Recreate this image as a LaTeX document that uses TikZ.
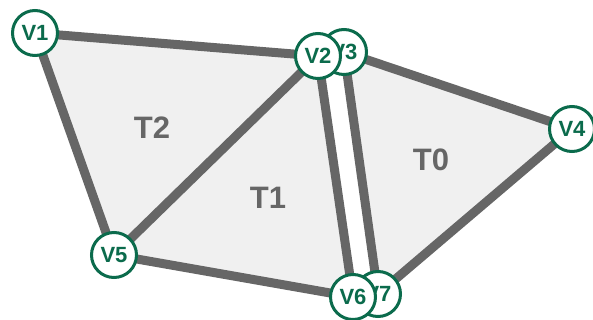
\documentclass[tikz,border=0pt]{standalone}
\usepackage{fontspec}
\setmainfont{Liberation Sans}
\usetikzlibrary{backgrounds}
\definecolor{vgreen}{HTML}{0B6B4C}
\definecolor{edgegray}{HTML}{666666}
\definecolor{facegray}{HTML}{F0F0F0}
\tikzset{
  vertex/.style={circle, draw=vgreen, line width=3pt, fill=white, minimum size=45pt,
    inner sep=0pt, text=vgreen, font=\fontsize{22}{22}\selectfont\bfseries},
  edge/.style={draw=edgegray, line width=9pt},
  face/.style={fill=facegray},
  tlabel/.style={text=edgegray, font=\fontsize{31}{31}\selectfont\bfseries}
}
\begin{document}
\begin{tikzpicture}[x=1pt, y=-1pt]
  \useasboundingbox (0,0) rectangle (593,320);
  % vertices (V3 and V7 lie underneath V2 and V6)
  \node[vertex] (v3) at (344,52) {V3};
  \node[vertex] (v7) at (378,294) {V7};
  \node[vertex] (v1) at (35,33) {V1};
  \node[vertex] (v2) at (318,56) {V2};
  \node[vertex] (v4) at (572,129) {V4};
  \node[vertex] (v5) at (114,255) {V5};
  \node[vertex] (v6) at (353,297) {V6};
  % triangle labels
  \node[tlabel] (t2) at (152,128) {T2};
  \node[tlabel] (t1) at (268,198) {T1};
  \node[tlabel] (t0) at (431,160) {T0};
  \begin{scope}[on background layer]
    % faces
    \fill[face] (v1.center) -- (v2.center) -- (v5.center) -- cycle;
    \fill[face] (v2.center) -- (v5.center) -- (v6.center) -- cycle;
    \fill[face] (v3.center) -- (v4.center) -- (v7.center) -- cycle;
    % edges
    \draw[edge] (v1.center) -- (v2.center);
    \draw[edge] (v1.center) -- (v5.center);
    \draw[edge] (v2.center) -- (v5.center);
    \draw[edge] (v5.center) -- (v6.center);
    \draw[edge] (v2.center) -- (v6.center);
    \draw[edge] (v3.center) -- (v7.center);
    \draw[edge] (v3.center) -- (v4.center);
    \draw[edge] (v4.center) -- (v7.center);
  \end{scope}
\end{tikzpicture}
\end{document}
